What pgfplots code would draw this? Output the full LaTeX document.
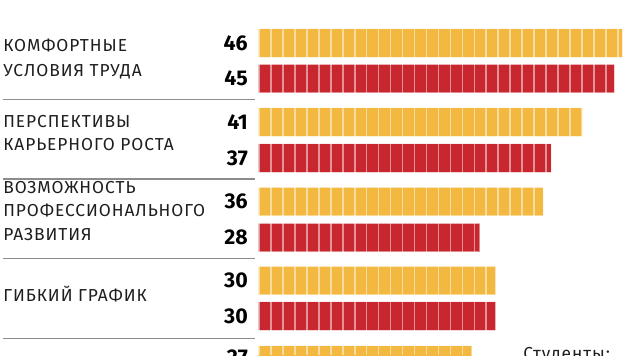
\documentclass[border=0pt]{standalone}
\usepackage{fontspec}
\setmainfont{Fira Sans}
\newfontfamily\lblfont[LetterSpace=5.5]{Fira Sans}
\usepackage{pgfplots}
\pgfplotsset{compat=1.18}
\definecolor{cy}{HTML}{F2B83F}
\definecolor{cr}{HTML}{C8272F}
\definecolor{sep}{HTML}{8C8C8C}
\definecolor{txt}{HTML}{1E1E1E}
\begin{document}
\begin{tikzpicture}
\useasboundingbox (0,0) rectangle (472.5pt,-266.25pt);
\clip (0,0) rectangle (472.5pt,-266.25pt);
\begin{axis}[at={(0,0)}, anchor=north west, scale only axis,
  width=472.5pt, height=266.25pt,
  xmin=-32.576, xmax=46.97, ymin=0, ymax=355, y dir=reverse,
  axis line style={draw=none}, tick style={draw=none},
  xticklabels={}, ytick=\empty,
  xtick={0.13,1.64,3.15,4.66,6.17,7.68,9.19,10.70,12.21,13.72,15.23,16.74,18.25,19.76,21.27,22.78,24.29,25.80,27.31,28.82,30.33,31.84,33.35,34.86,36.37,37.88,39.39,40.90,42.41,43.92,45.43,46.94},
  xmajorgrids,
  major grid style={white, opacity=0.5, line width=1.2pt},
  axis on top, xbar, bar width=28.5, clip=false]
\addplot[fill=cy, draw=white, draw opacity=0.45, line width=0.6pt, bar shift=0pt]
  coordinates {(46,43) (41,122) (36,201.5) (30,280.5) (27,360)};
\addplot[fill=cr, draw=white, draw opacity=0.45, line width=0.6pt, bar shift=0pt]
  coordinates {(45,78.5) (37,158) (28,237.5) (30,316)};
\end{axis}
\begin{scope}[x=0.75pt,y=-0.75pt]
\foreach \yy in {99.3,179,258.7,338.3}
  \draw[sep, line width=1.1pt] (3,\yy) -- (255,\yy);
\begin{scope}[every node/.style={anchor=base west, inner sep=0pt, text=txt, font=\lblfont\fontsize{13}{15}\selectfont}]
\node at (3,51.7) {КОМФОРТНЫЕ};
\node at (3,76) {УСЛОВИЯ ТРУДА};
\node at (3,127.3) {ПЕРСПЕКТИВЫ};
\node at (3,150.7) {КАРЬЕРНОГО РОСТА};
\node at (3,193.5) {ВОЗМОЖНОСТЬ};
\node at (3,216.7) {ПРОФЕССИОНАЛЬНОГО};
\node at (3,240) {РАЗВИТИЯ};
\node at (3,301.7) {ГИБКИЙ ГРАФИК};
\end{scope}
\begin{scope}[every node/.style={anchor=east, inner sep=0pt, text=black, font=\fontsize{16}{18}\selectfont\bfseries}]
\node at (248,43.5) {46};
\node at (248,78.3) {45};
\node at (248,122) {41};
\node at (248,158) {37};
\node at (248,201.5) {36};
\node at (248,237.5) {28};
\node at (248,280.5) {30};
\node at (248,316) {30};
\node at (248,357.5) {27};
\end{scope}
\node[anchor=north west, inner sep=0pt, text=txt, font=\lblfont\fontsize{13}{15}\selectfont] at (523,346.7) {Студенты:};
\end{scope}
\end{tikzpicture}
\end{document}
